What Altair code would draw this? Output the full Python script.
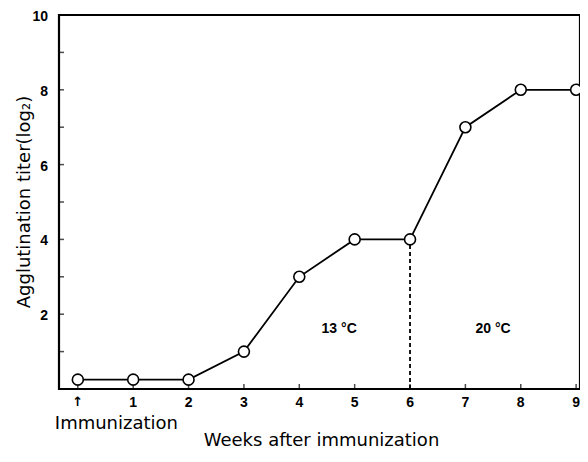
import altair as alt
import pandas as pd

# ---- data ----
weeks = [0, 1, 2, 3, 4, 5, 6, 7, 8, 9]
titer = [0.25, 0.25, 0.25, 1, 3, 4, 4, 7, 8, 8]
x_tick_labels = ["↑", "1", "2", "3", "4", "5", "6", "7", "8", "9"]
y_tick_values = [1, 2, 3, 4, 5, 6, 7, 8, 9, 10]
y_label_values = [2, 4, 6, 8, 10]
y_tick_labels = ["2", "4", "6", "8", "10"]
shift_week = [6]
shift_low = [0]
shift_high = [4]
temp_labels = ["13 °C", "20 °C"]
temp_x = [4.72, 7.5]
temp_y = [1.6, 1.6]
immun_label = ["Immunization"]
immun_x = [0]
x_title = "Weeks after immunization"
y_title = "Agglutination titer(log₂)"

X_MIN, X_MAX = -0.34, 9.07
Y_MIN, Y_MAX = 0, 10
W, H = 521, 374

df = pd.DataFrame({"week": weeks, "titer": titer})
df_rule = pd.DataFrame({"week": shift_week, "lo": shift_low, "hi": shift_high})
df_temp = pd.DataFrame({"week": temp_x, "titer": temp_y, "label": temp_labels})
df_imm = pd.DataFrame({"week": immun_x, "label": immun_label})
df_xt = pd.DataFrame({"week": weeks, "label": x_tick_labels})
df_yt = pd.DataFrame({"titer": y_tick_values})
df_yl = pd.DataFrame({"titer": y_label_values, "label": y_tick_labels})
df_xtitle = pd.DataFrame({"week": [(X_MIN + X_MAX) / 2], "label": [x_title]})
df_ytitle = pd.DataFrame({"titer": [(Y_MIN + Y_MAX) / 2], "label": [y_title]})

xs = alt.Scale(domain=[X_MIN, X_MAX], nice=False, zero=False)
ys = alt.Scale(domain=[Y_MIN, Y_MAX], nice=False, zero=False)

hidden_axis = alt.Axis(labels=False, ticks=False, domain=False, grid=False, title=None)

line = alt.Chart(df).mark_line(color="black", strokeWidth=1.8).encode(
    x=alt.X("week:Q", scale=xs, axis=hidden_axis),
    y=alt.Y("titer:Q", scale=ys, axis=hidden_axis),
)

xticks = alt.Chart(df_xt).mark_tick(
    orient="vertical", color="black", size=5, thickness=1.5, yOffset=-2.5
).encode(
    x=alt.X("week:Q", scale=xs, axis=None),
    y=alt.datum(Y_MIN, scale=ys),
)

xlabels = alt.Chart(df_xt).transform_filter(
    alt.datum.week > 0
).mark_text(
    font="Liberation Sans", fontWeight="bold", fontSize=14, color="black",
    align="center", baseline="middle",
).encode(
    x=alt.X("week:Q", scale=xs, axis=None),
    y=alt.value(H + 14),
    text="label:N",
)

xarrow = alt.Chart(df_xt).transform_filter(
    alt.datum.week == 0
).mark_text(
    font="DejaVu Sans", fontWeight="bold", fontSize=13, color="black",
    align="center", baseline="middle",
).encode(
    x=alt.X("week:Q", scale=xs, axis=None),
    y=alt.value(H + 13),
    text="label:N",
)

yticks = alt.Chart(df_yt).mark_tick(
    orient="horizontal", color="black", size=5, thickness=1.5, xOffset=2.5
).encode(
    x=alt.datum(X_MIN, scale=xs),
    y=alt.Y("titer:Q", scale=ys, axis=None),
)

ylabels = alt.Chart(df_yl).mark_text(
    font="Liberation Sans", fontWeight="bold", fontSize=14, color="black",
    align="right", baseline="middle", dy=2,
).encode(
    x=alt.value(-11),
    y=alt.Y("titer:Q", scale=ys, axis=None),
    text="label:N",
)

rule = alt.Chart(df_rule).mark_rule(
    color="black", strokeWidth=1.8, strokeDash=[4, 3]
).encode(
    x=alt.X("week:Q", scale=xs, axis=None),
    y=alt.Y("lo:Q", scale=ys, axis=None),
    y2="hi:Q",
)

points = alt.Chart(df).mark_point(
    shape="circle", filled=True, fill="white", stroke="black",
    strokeWidth=1.6, size=120, opacity=1,
).encode(
    x=alt.X("week:Q", scale=xs, axis=None),
    y=alt.Y("titer:Q", scale=ys, axis=None),
)

temp_text = alt.Chart(df_temp).mark_text(
    font="Liberation Sans", fontWeight="bold", fontSize=14, color="black",
    align="center", baseline="middle",
).encode(
    x=alt.X("week:Q", scale=xs, axis=None),
    y=alt.Y("titer:Q", scale=ys, axis=None),
    text="label:N",
)

imm_text = alt.Chart(df_imm).mark_text(
    font="DejaVu Sans", fontSize=18, color="black",
    align="left", baseline="middle", dx=-23,
).encode(
    x=alt.X("week:Q", scale=xs, axis=None),
    y=alt.value(H + 35),
    text="label:N",
)

xtitle = alt.Chart(df_xtitle).mark_text(
    font="DejaVu Sans", fontSize=18, color="black",
    align="center", baseline="alphabetic", dx=2,
).encode(
    x=alt.X("week:Q", scale=xs, axis=None),
    y=alt.value(H + 57),
    text="label:N",
)

ytitle = alt.Chart(df_ytitle).mark_text(
    font="DejaVu Sans", fontSize=18, color="black", angle=270,
    align="center", baseline="middle",
).encode(
    x=alt.value(-34),
    y=alt.Y("titer:Q", scale=ys, axis=None),
    text="label:N",
)

chart = alt.layer(
    line, xticks, yticks, rule, points, temp_text,
    xlabels, xarrow, ylabels, imm_text, xtitle, ytitle,
).properties(
    width=W, height=H,
    padding={"left": 51, "top": 7, "right": 0, "bottom": 61},
    autosize=alt.AutoSizeParams(type="none"),
    background="white",
).configure_view(stroke="black", strokeWidth=2.2)

chart.save("out.html", embed_options={"renderer": "svg", "actions": False})
